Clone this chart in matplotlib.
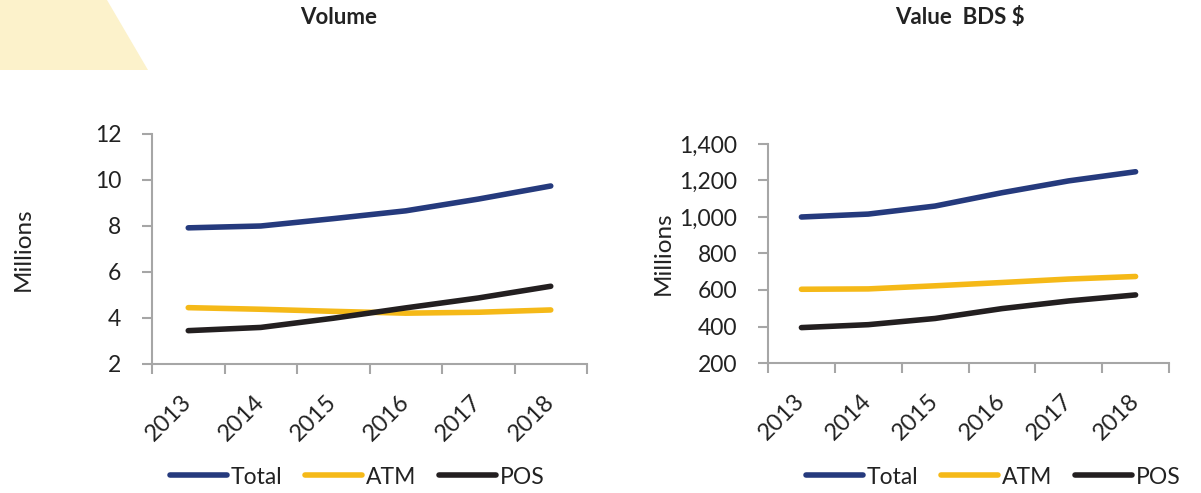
import numpy as np
import matplotlib.pyplot as plt
import matplotlib.patheffects as pe
from matplotlib.patches import Polygon

plt.rcParams['font.family'] = ['Lato', 'DejaVu Sans']

years = ['2013', '2014', '2015', '2016', '2017', '2018']

# volume of transactions, millions
vol_total = [7.92, 8.00, 8.32, 8.66, 9.17, 9.74]
vol_atm = [4.45, 4.38, 4.29, 4.21, 4.25, 4.35]
vol_pos = [3.45, 3.59, 3.99, 4.44, 4.87, 5.38]

# value of transactions, BDS$ millions
val_total = [1000, 1016, 1060, 1133, 1198, 1248]
val_atm = [604, 606, 623, 641, 660, 674]
val_pos = [394, 410, 444, 498, 540, 573]

series_names = ['Total', 'ATM', 'POS']
colors = ['#253a7d', '#f5b918', '#231f20']
axis_grey = '#a6a6a6'
txt = '#222222'

fig = plt.figure(figsize=(12.01, 4.93), dpi=100)

# pale yellow corner shape
W, H = 1201.0, 493.0
corner = Polygon([(0, 1), (107 / W, 1), (148 / W, 1 - 70 / H), (0, 1 - 70 / H)],
                 closed=True, transform=fig.transFigure, facecolor='#fcf2cb',
                 edgecolor='none', zorder=0)
fig.patches.append(corner)


def draw_panel(ax, data, ylim, yticks, yfmt):
    x = np.arange(len(years))
    shadow = [pe.SimpleLineShadow(offset=(2.5, -3.5), shadow_color='#555555', alpha=0.45),
              pe.Normal()]
    for vals, name, c in zip(data, series_names, colors):
        ax.plot(x, vals, color=c, lw=4, solid_capstyle='round',
                label=name, path_effects=shadow)
    ax.set_xlim(-0.5, len(years) - 0.5)
    ax.set_ylim(*ylim)
    ax.set_yticks(yticks)
    ax.set_yticklabels([yfmt(v) for v in yticks], fontsize=16.5, color=txt)
    ax.set_xticks(x)
    ax.set_xticklabels(years, rotation=45, ha='right', va='center',
                       rotation_mode='anchor', fontsize=17, color=txt)
    ax.set_xticks(np.arange(-0.5, len(years)), minor=True)
    ax.tick_params(axis='x', which='major', length=0, pad=25)
    ax.tick_params(axis='x', which='minor', length=7, width=1.5, color=axis_grey)
    ax.tick_params(axis='y', length=7, width=1.5, color=axis_grey, pad=15)
    for s in ['top', 'right']:
        ax.spines[s].set_visible(False)
    for s in ['left', 'bottom']:
        ax.spines[s].set_color(axis_grey)
        ax.spines[s].set_linewidth(1.5)
    ax.set_ylabel('Millions', fontsize=17.5, color=txt)
    ax.set_facecolor('none')


ax1 = fig.add_axes([152 / W, 1 - 364 / H, 435 / W, 230 / H])
draw_panel(ax1, [vol_total, vol_atm, vol_pos], (2, 12), [2, 4, 6, 8, 10, 12],
           lambda v: '%d' % v)
ax1.yaxis.set_label_coords(-0.272, 0.5)

ax2 = fig.add_axes([768 / W, 1 - 363 / H, 401 / W, 219 / H])
draw_panel(ax2, [val_total, val_atm, val_pos], (200, 1400),
           [200, 400, 600, 800, 1000, 1200, 1400], lambda v: '{:,}'.format(v))
ax2.yaxis.set_label_coords(-0.235, 0.5)

fig.text(339 / W, 1 - 18 / H, 'Volume', ha='center', va='center',
         fontsize=16, fontweight='bold', color=txt)
fig.text(960 / W, 1 - 18 / H, 'Value  BDS $', ha='center', va='center',
         fontsize=16, fontweight='bold', color=txt)

for ax, cx in [(ax1, 357), (ax2, 993)]:
    handles, labels = ax.get_legend_handles_labels()
    for h in handles:
        h.set_path_effects([])
    fig.legend(handles, labels, loc='center', bbox_to_anchor=(cx / W, 1 - 477 / H),
               ncol=3, frameon=False, fontsize=16.5, handlelength=2.5,
               handletextpad=0.15, columnspacing=1.0, labelcolor=txt)

fig.savefig('out.png', dpi=100)
